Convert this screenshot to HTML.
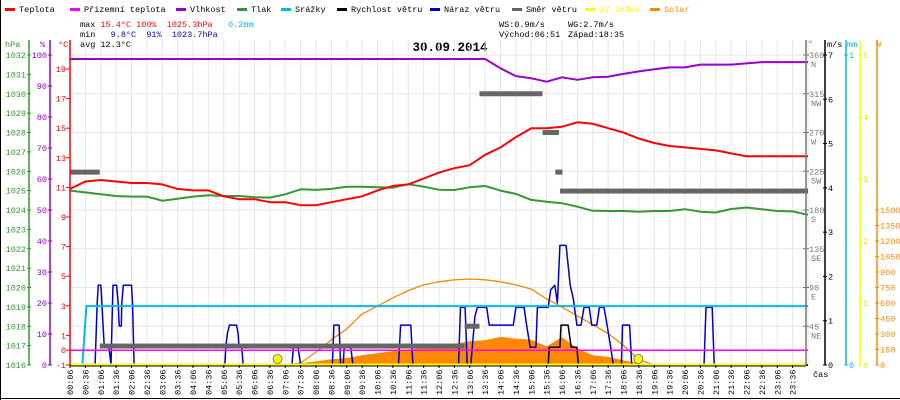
<!DOCTYPE html>
<html><head><meta charset="utf-8"><style>
html,body{margin:0;padding:0;background:#fff;}
svg{display:block;font-family:"Liberation Mono",monospace;font-size:8.5px;}
svg text{white-space:pre;}
</style></head><body>
<svg id="chart" width="900" height="400" viewBox="0 0 900 400" xmlns="http://www.w3.org/2000/svg" xml:space="preserve">
<rect x="0" y="0" width="900" height="400" fill="#fff"/>
<line x1="0.5" y1="0" x2="0.5" y2="400" stroke="#000"/>
<line x1="0" y1="398.5" x2="900" y2="398.5" stroke="#000"/>
<g id="legend"></g>
<g>
<text x="80" y="27">max <tspan fill="#ff0000">15.4°C 100%</tspan>  <tspan fill="#ff0000">1025.3hPa</tspan>   <tspan fill="#00bbee">0.2mm</tspan></text>
<text x="80" y="37">min  <tspan fill="#0000cc"> 9.8°C  91%</tspan>  <tspan fill="#0000cc">1023.7hPa</tspan></text>
<text x="80" y="47">avg 12.3°C</text>
<text x="499" y="27">WS:0.9m/s</text><text x="568" y="27">WG:2.7m/s</text>
<text x="499" y="37">Východ:06:51</text><text x="568" y="37">Západ:18:35</text>
</g>
<text x="450" y="51" text-anchor="middle" font-weight="bold" font-size="12.5">30.09.2014</text>
<g id="grid"></g><g id="marks"></g><g id="axes"></g>
</svg>
<script>
// ---- data ----
const temp = [10.9,11.4,11.5,11.4,11.3,11.3,11.2,10.9,10.8,10.8,10.4,10.2,10.2,10.0,10.0,9.8,9.8,10.0,10.2,10.4,10.8,11.1,11.2,11.6,12.0,12.3,12.5,13.2,13.7,14.4,15.0,15.0,15.1,15.4,15.3,15.0,14.7,14.3,14.0,13.8,13.7,13.6,13.5,13.3,13.1,13.1,13.1,13.1,13.1];
const pressure = [1025.00,1024.91,1024.81,1024.72,1024.69,1024.69,1024.48,1024.58,1024.69,1024.76,1024.72,1024.72,1024.66,1024.64,1024.81,1025.07,1025.04,1025.09,1025.20,1025.20,1025.17,1025.15,1025.33,1025.20,1025.05,1025.03,1025.17,1025.24,1025.00,1024.83,1024.52,1024.43,1024.35,1024.17,1023.96,1023.95,1023.95,1023.91,1023.95,1023.95,1024.04,1023.91,1023.87,1024.05,1024.13,1024.04,1023.95,1023.93,1023.75];
const humidity = [98.7,98.7,98.7,98.7,98.7,98.7,98.7,98.7,98.7,98.7,98.7,98.7,98.7,98.7,98.7,98.7,98.7,98.7,98.7,98.7,98.7,98.7,98.7,98.7,98.7,98.7,98.7,98.7,95.7,93.2,92.5,91.4,92.8,92.0,92.8,93.0,93.9,94.7,95.4,96.0,96.0,96.9,96.9,96.9,97.3,97.7,97.7,97.7,97.7];
const solar = [0,0,0,0,0,0,0,0,0,0,0,0,0,0,5,16,35,55,68,95,115,135,150,165,182,205,230,240,272,255,245,180,270,160,95,78,45,15,0,0,0,0,0,0,0,0,0,0,0];
const solarMax = [0,0,0,0,0,0,0,0,0,0,0,0,0,0,0,20,125,245,350,495,570,650,720,775,805,825,832,825,806,775,735,640,560,475,390,305,190,50,0,0,0,0,0,0,0,0,0,0,0];
const apparent = [0,0,0,0,0,0,0,0,0,0,0,0,0,0,0,0,0,0,0,0,0,0,0,0,0,0,0,0,0,0,0,0,0,0,0,0,0,0,0,0,0,0,0,0,0,0,0,0,0];
const rainTimes = [6,30,38,1446];
const rainVals = [0,0,0.19,0.19];
const gustTimes = [6,55,59,61,66,67,70,73,82,84,86,89,90,97,100,102,106,107,110,126,128,131,308,310,313,317,331,334,336,341,344,439,442,451,456,518,521,531,534,539,541,554,558,647,651,671,675,764,768,777,781,788,796,801,819,824,871,876,892,897,904,915,918,939,944,952,957,962,974,982,988,995,1003,1009,1019,1024,1034,1039,1048,1054,1061,1066,1082,1084,1098,1102,1243,1247,1259,1263,1446];
const gustVals = [0,0,1.4,1.8,1.8,1.65,1.0,0.4,0.4,0.2,0,1.4,1.8,1.8,1.4,0.88,0.88,1.4,1.8,1.8,1.4,0,0,0.4,0.7,0.9,0.9,0.7,0.4,0.4,0,0,0.4,0.4,0,0,0.9,0.9,0,0,0.4,0.4,0,0,0.9,0.9,0,0,1.3,1.3,0,0,1.1,1.3,1.3,0.9,0.9,1.3,1.3,0.9,0.4,0.4,1.3,1.3,1.7,1.8,1.4,2.7,2.7,1.8,1.5,0.9,0.9,1.3,1.3,0.9,0.9,1.3,1.3,0.9,0.4,0,0,0.9,0.9,0,0,1.3,1.3,0,0];
const windTimes = [6,939,941,962,964,978,984,995,998,1446];
const windVals = [0,0,0.4,0.4,0.9,0.9,0.4,0.4,0,0];
const dirStart = [6,64,776,805,928,953,962];
const dirEnd = [64,776,805,928,960,967,1446];
const dirDeg = [224,22,45,315,270,224,202];
const sunTimes = [411,1115];
const timeLabels = [];
for (let i=0;i<48;i++){const m=6+30*i;timeLabels.push(String(Math.floor(m/60)).padStart(2,'0')+':'+String(m%60).padStart(2,'0'));}
const hpaTicks=[1016,1017,1018,1019,1020,1021,1022,1023,1024,1025,1026,1027,1028,1029,1030,1031,1032];
const pctTicks=[0,10,20,30,40,50,60,70,80,90,100];
const degTicks=[-1,0,1,3,5,7,9,11,13,15,17,19];
const dirTicks=[45,90,135,180,225,270,315,360];
const dirNames=['NE','E','SE','S','SW','W','NW','N'];
const msTicks=[0,1,2,3,4,5,6,7];
const uvTicks=[0,1,2,3,4,5];
const wTicks=[0,150,300,450,600,750,900,1050,1200,1350,1500];

// ---- scales ----
const X0=70, KX=0.5125, Y0=365, TOP=55, H=Y0-TOP;
const xT = t => X0+(t-6)*KX;
const xI = i => xT(6+30*i);
const yC = v => 350.2 - v*14.8;
const yP = v => Y0-(v-1016)/16*H;
const yH = v => Y0-v/100*H;
const yMS = v => Y0-v/7*H;
const yDir = v => Y0-v/360*H;
const yMM = v => Y0-v*H;
const yW = v => Y0-v/3000*H;
const yUV = v => Y0-v/5*H;

const NS='http://www.w3.org/2000/svg';
function mk(tag, attrs, parent){const e=document.createElementNS(NS,tag);for(const k in attrs)e.setAttribute(k,attrs[k]);parent.appendChild(e);return e;}
const grid=document.getElementById('grid'), marks=document.getElementById('marks'), axes=document.getElementById('axes'), legend=document.getElementById('legend');

// legend
const legItems=[['Teplota','#ff0000',5],['Přízemní teplota','#ff00ff',70],['Vlhkost','#9900cc',176],['Tlak','#339933',237],['Srážky','#00bbee',281],['Rychlost větru','#000000',337],['Náraz větru','#0000cc',430],['Směr větru','#666666',512],['UV index','#ffff00',585],['Solar','#ff8800',650]];
legItems.forEach(it=>{
  const g=mk('g',{},legend);
  
  
  mk('rect',{x:it[2],y:8,width:10,height:3,fill:it[1]},g);
  const tx=mk('text',{x:it[2]+14,y:12,fill:(it[1]==='#ffff00'||it[1]==='#ff8800')?it[1]:'#000'},g);
  tx.textContent=it[0];
});

// grid
for(let i=0;i<=48;i++){const l=mk('line',{x1:xI(i),y1:40,x2:xI(i),y2:Y0,stroke:'#e6e6e6'},grid);

}
for(let p=1016;p<=1032;p+=2){const l=mk('line',{x1:X0,y1:yP(p),x2:806,y2:yP(p),stroke:'#e6e6e6'},grid);

}

function poly(xs, ys, color, w, name){
  const pts=xs.map((x,i)=>x.toFixed(1)+','+ys[i].toFixed(1)).join(' ');
  const p=mk('polyline',{points:pts,fill:'none',stroke:color,'stroke-width':w,'stroke-linejoin':'round'},marks);
  
  
  return p;
}
const idx=temp.map((_,i)=>i);
{
  let d='M'+xI(0)+','+Y0;
  solar.forEach((v,i)=>{d+=' L'+xI(i).toFixed(1)+','+yW(v).toFixed(1);});
  d+=' L'+xI(48)+','+Y0+' Z';
  const p=mk('path',{d:d,fill:'#ff8800'},marks);
  
  
}
poly(idx.map(xI), solarMax.map(yW), '#ff8800', 1.3, 'solar-max-line');
poly(gustTimes.map(xT), gustVals.map(yMS), '#0000cc', 1.5, 'wind-gust-line');
poly(windTimes.map(xT), windVals.map(yMS), '#000000', 1.5, 'wind-speed-line');
dirDeg.forEach((d,i)=>{
  const r=mk('rect',{x:xT(dirStart[i]),y:yDir(d)-2.5,width:xT(dirEnd[i])-xT(dirStart[i]),height:5,fill:'#666666'},marks);
  
  
});
poly(rainTimes.map(xT), rainVals.map(yMM), '#00bbee', 2, 'precipitation-line');
poly(idx.map(xI), apparent.map(yC), '#ff00ff', 1.5, 'apparent-temp-line');
poly(idx.map(xI), pressure.map(yP), '#339933', 2, 'pressure-line');
poly(idx.map(xI), temp.map(yC), '#ff0000', 2, 'temperature-line');
poly(idx.map(xI), humidity.map(yH), '#9900cc', 2, 'humidity-line');
{const l=mk('line',{x1:X0,y1:Y0-0.5,x2:806,y2:Y0-0.5,stroke:'#ffff00','stroke-width':2},marks);

}
{const l=mk('line',{x1:X0,y1:Y0+1,x2:806,y2:Y0+1,stroke:'#000','stroke-width':1},marks);

}
sunTimes.forEach(t=>{const c=mk('circle',{cx:xT(t),cy:Y0-6,r:4.5,fill:'#ffff00',stroke:'#666','stroke-width':0.8},marks);

});

// axes
function vaxis(x,color,name){const l=mk('line',{x1:x,y1:40,x2:x,y2:Y0,stroke:color,'stroke-width':1.5},axes);

}
function label(x,y,txt,color,anchor,name){const t=mk('text',{x:x,y:y,fill:color,'text-anchor':anchor},axes);t.textContent=txt;

return t;}
vaxis(29,'#339933','hpa-axis');vaxis(50,'#9900cc','humidity-axis');vaxis(X0,'#ff0000','temperature-axis');
vaxis(806,'#777777','direction-axis');vaxis(825,'#000000','wind-speed-axis');vaxis(846,'#00bbee','precip-axis');vaxis(860,'#ffff00','uv-axis');vaxis(877,'#ff8800','solar-axis');
label(5,47,'hPa','#339933','start','hpa-axis-title');label(40,47,'%','#9900cc','start','humidity-axis-title');label(58,47,'°C','#ff0000','start','temperature-axis-title');
label(808,46,'°','#777777','start','direction-axis-title');label(827,47,'m/s','#000','start','wind-axis-title');label(847,47,'mm','#00bbee','start','precip-axis-title');label(876,47,'W','#ff8800','start','solar-axis-title');
hpaTicks.forEach(v=>{const y=yP(v);mk('line',{x1:27,y1:y,x2:31,y2:y,stroke:'#339933'},axes);label(26,y+3,String(v),'#339933','end','hpa-tick-label');});
pctTicks.forEach(v=>{const y=yH(v);mk('line',{x1:48,y1:y,x2:52,y2:y,stroke:'#9900cc'},axes);label(47,y+3,String(v),'#9900cc','end','humidity-tick-label');});
degTicks.forEach(v=>{const y=yC(v);mk('line',{x1:66,y1:y,x2:70,y2:y,stroke:'#ff0000'},axes);label(66,y+3,String(v),'#ff0000','end','temperature-tick-label');});
dirTicks.forEach((v,i)=>{const y=yDir(v);mk('line',{x1:803,y1:y,x2:809,y2:y,stroke:'#777'},axes);label(809,y+3,String(v),'#777','start','direction-tick-label');label(811,y+12,dirNames[i],'#777','start','direction-name-label');});
msTicks.forEach(v=>{const y=yMS(v);mk('line',{x1:823,y1:y,x2:827,y2:y,stroke:'#000'},axes);label(828,y+3,String(v),'#000','start','wind-tick-label');});
[0,1].forEach(v=>{const y=yMM(v);mk('line',{x1:844,y1:y,x2:848,y2:y,stroke:'#00bbee'},axes);label(849,y+3,String(v),'#00bbee','start','precip-tick-label');});
uvTicks.forEach(v=>{const y=yUV(v);mk('line',{x1:858,y1:y,x2:862,y2:y,stroke:'#ffff00'},axes);label(863,y+3,String(v),'#e6e600','start','uv-tick-label');});
wTicks.forEach(v=>{const y=yW(v);mk('line',{x1:875,y1:y,x2:879,y2:y,stroke:'#ff8800'},axes);label(880,y+3,String(v),'#ff8800','start','solar-tick-label');});
timeLabels.forEach((s,i)=>{const x=xI(i);mk('line',{x1:x,y1:Y0,x2:x,y2:Y0+3,stroke:'#000'},axes);
const t=mk('text',{x:0,y:0,transform:'translate('+(x+3)+','+(Y0+30)+') rotate(-90)',fill:'#000'},axes);t.textContent=s;

});
label(813,377,'čas','#000','start','x-axis-title');
</script>
</body></html>
